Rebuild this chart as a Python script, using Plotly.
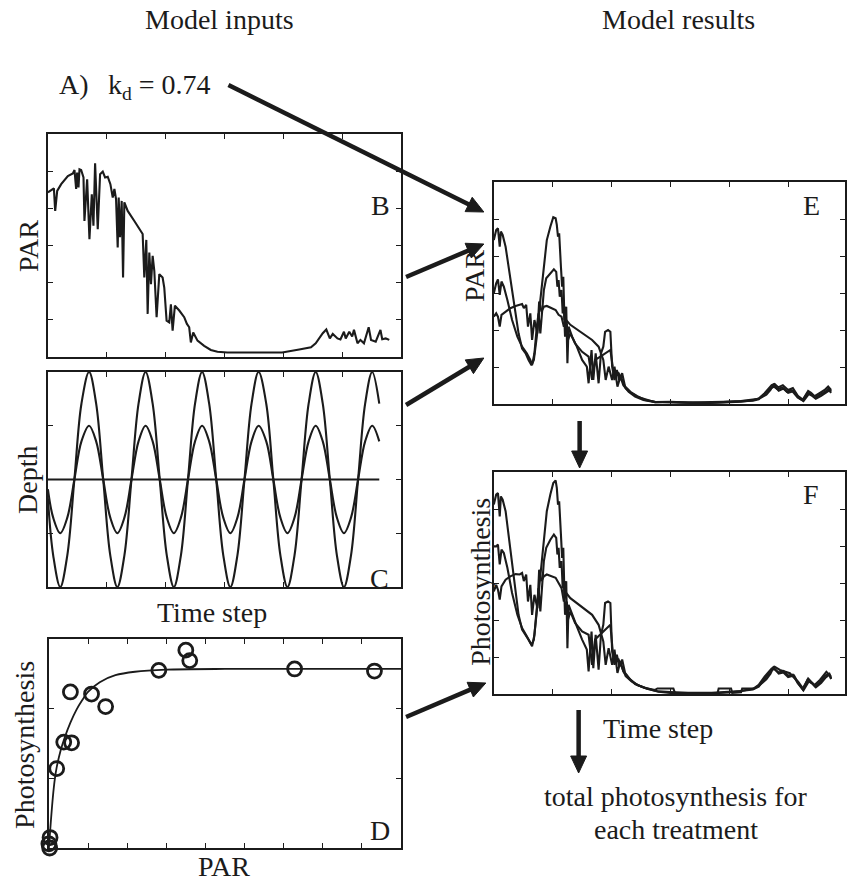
import math
import plotly.graph_objects as go

W, H = 847, 884
INK = "#1b1b1b"
FONT = "Liberation Serif, Times New Roman, serif"

# ---------------- panel B: surface PAR over the time series ----------------
par_surface = [
    (0.000, 4.43), (0.056, 4.49), (0.102, 4.54), (0.124, 3.93), (0.158, 4.47),
    (0.226, 4.65), (0.339, 4.87), (0.424, 4.94), (0.452, 5.03), (0.480, 4.52),
    (0.497, 4.96), (0.520, 4.56), (0.537, 5.05), (0.565, 5.03), (0.605, 4.83),
    (0.621, 3.66), (0.667, 4.78), (0.706, 3.17), (0.746, 4.38), (0.774, 3.53),
    (0.802, 5.21), (0.847, 3.44), (0.887, 4.92), (0.932, 4.99), (0.972, 4.83),
    (1.017, 4.85), (1.062, 4.65), (1.102, 4.29), (1.130, 4.52), (1.158, 4.25),
    (1.186, 2.95), (1.203, 4.29), (1.226, 3.22), (1.254, 4.20), (1.277, 2.14),
    (1.299, 4.16), (1.356, 3.93), (1.469, 3.66), (1.610, 3.31), (1.638, 2.14),
    (1.672, 3.15), (1.695, 1.16), (1.723, 2.81), (1.751, 1.96), (1.780, 2.72),
    (1.808, 2.32), (1.847, 1.07), (1.893, 2.23), (1.949, 2.14), (1.977, 1.87),
    (2.017, 0.98), (2.062, 0.93), (2.090, 1.42), (2.119, 0.71), (2.136, 0.98),
    (2.158, 1.38), (2.232, 1.25), (2.316, 1.07), (2.362, 0.89), (2.401, 0.80),
    (2.429, 0.39), (2.469, 0.66), (2.542, 0.44), (2.655, 0.30), (2.768, 0.19),
    (2.881, 0.14), (3.050, 0.12), (3.500, 0.12), (3.980, 0.12), (4.270, 0.20),
    (4.380, 0.23), (4.470, 0.26), (4.550, 0.37), (4.670, 0.64), (4.730, 0.74),
    (4.790, 0.50), (4.840, 0.62), (4.920, 0.50), (4.970, 0.47), (5.030, 0.68),
    (5.060, 0.50), (5.120, 0.68), (5.170, 0.55), (5.200, 0.73), (5.260, 0.37),
    (5.310, 0.46), (5.370, 0.37), (5.450, 0.80), (5.490, 0.46), (5.570, 0.41),
    (5.650, 0.73), (5.680, 0.48), (5.740, 0.50), (5.800, 0.46),
]

# ---------------- panel C: depth treatments ----------------
depth_t = [0.00, 0.09, 0.21, 0.33, 0.45, 0.57, 0.70, 0.82, 0.94, 1.06, 1.18,
           1.30, 1.42, 1.54, 1.66, 1.78, 1.90, 2.02, 2.14, 2.26, 2.38, 2.50,
           2.62, 2.74, 2.86, 2.98, 3.10, 3.22, 3.34, 3.46, 3.58, 3.71, 3.83,
           3.95, 4.07, 4.19, 4.31, 4.43, 4.55, 4.67, 4.79, 4.91, 5.03, 5.15,
           5.27, 5.39, 5.51, 5.63]
depth_large = [1.65, 0.59,
               0, 0.59, 2, 3.41, 4, 3.41, 2, 0.59,
               0, 0.59, 2, 3.41, 4, 3.41, 2, 0.59,
               0, 0.59, 2, 3.41, 4, 3.41, 2, 0.59,
               0, 0.59, 2, 3.41, 4, 3.41, 2, 0.59,
               0, 0.59, 2, 3.41, 4, 3.41, 2, 0.59,
               0, 0.59, 2, 3.41, 4, 3.41]
depth_medium = [1.82, 1.29,
                1, 1.29, 2, 2.71, 3, 2.71, 2, 1.29,
                1, 1.29, 2, 2.71, 3, 2.71, 2, 1.29,
                1, 1.29, 2, 2.71, 3, 2.71, 2, 1.29,
                1, 1.29, 2, 2.71, 3, 2.71, 2, 1.29,
                1, 1.29, 2, 2.71, 3, 2.71, 2, 1.29,
                1, 1.29, 2, 2.71, 3, 2.71]
depth_fixed_t = [0.00, 5.63]
depth_fixed = [2, 2]

# ---------------- panel D: photosynthesis-irradiance data and fit ----------------
pi_obs_par = [0.03, 0.00, 0.02, 0.20, 0.38, 0.58, 0.55, 1.09, 1.45, 2.81, 3.50, 3.60, 6.28, 8.32]
pi_obs_ps = [0.15, 0.06, 0.00, 1.14, 1.52, 1.51, 2.24, 2.21, 2.03, 2.55, 2.84, 2.69, 2.57, 2.54]
pi_fit_par = [0, 0.05, 0.10, 0.15, 0.20, 0.30, 0.40, 0.55, 0.70, 0.85, 1.00,
              1.30, 1.70, 2.20, 3.00, 4.50, 9.00]
pi_fit_ps = [0, 0.38, 0.72, 0.98, 1.16, 1.40, 1.58, 1.80, 1.98, 2.12, 2.24,
             2.38, 2.48, 2.53, 2.56, 2.57, 2.57]

# ---------------- panel E: PAR received under each depth treatment ----------------
par_shallow = [
    (0.00, 4.43), (0.04, 4.70), (0.07, 4.75), (0.10, 4.25), (0.12, 4.66),
    (0.15, 4.57), (0.20, 4.25), (0.25, 3.71), (0.31, 3.08), (0.37, 2.45),
    (0.42, 1.91), (0.48, 1.50), (0.54, 1.37), (0.59, 1.19), (0.64, 1.05),
    (0.68, 1.19), (0.73, 1.82), (0.79, 2.81), (0.85, 3.80), (0.90, 4.43),
    (0.96, 4.79), (1.01, 5.05), (1.05, 5.02), (1.07, 4.84), (1.09, 4.52),
    (1.11, 4.61), (1.14, 3.71), (1.16, 3.17), (1.18, 3.44), (1.20, 2.27),
    (1.23, 2.63), (1.25, 1.10), (1.27, 2.09), (1.33, 1.82), (1.41, 1.55),
    (1.50, 1.19), (1.58, 1.01), (1.61, 0.56), (1.66, 1.46), (1.69, 0.65),
    (1.73, 1.37), (1.78, 0.56), (1.82, 1.37), (1.86, 1.55), (1.89, 1.95),
    (1.94, 2.00), (1.98, 1.95), (2.01, 1.01), (2.05, 0.65), (2.09, 0.92),
    (2.13, 0.65), (2.18, 0.83), (2.23, 0.47), (2.32, 0.33), (2.43, 0.22),
    (2.57, 0.11), (2.74, 0.06), (3.00, 0.04), (3.20, 0.03), (3.50, 0.02),
    (3.90, 0.04), (4.20, 0.06), (4.40, 0.10), (4.50, 0.15), (4.60, 0.29),
    (4.72, 0.51), (4.77, 0.54), (4.83, 0.45), (4.91, 0.51), (5.00, 0.38),
    (5.08, 0.43), (5.17, 0.21), (5.25, 0.12), (5.34, 0.35), (5.39, 0.30),
    (5.45, 0.21), (5.54, 0.30), (5.62, 0.38), (5.68, 0.47), (5.73, 0.38),
]
par_middle = [
    (0.00, 2.99), (0.04, 3.26), (0.07, 3.37), (0.10, 2.95), (0.13, 3.31),
    (0.17, 3.17), (0.23, 2.81), (0.31, 2.27), (0.40, 1.82), (0.48, 1.55),
    (0.56, 1.37), (0.62, 1.19), (0.65, 1.05), (0.69, 1.37), (0.73, 2.09),
    (0.76, 2.45), (0.79, 1.91), (0.82, 2.63), (0.85, 3.08), (0.89, 3.40),
    (0.96, 3.53), (1.02, 3.64), (1.06, 3.57), (1.08, 3.17), (1.10, 3.35),
    (1.12, 2.90), (1.15, 3.08), (1.17, 2.45), (1.19, 2.63), (1.21, 1.82),
    (1.24, 2.18), (1.26, 1.73), (1.30, 1.91), (1.38, 1.64), (1.50, 1.41),
    (1.61, 1.28), (1.67, 0.65), (1.72, 1.19), (1.81, 1.28), (1.89, 1.37),
    (1.98, 1.46), (2.02, 1.01), (2.06, 0.74), (2.12, 0.83), (2.18, 0.65),
    (2.24, 0.42), (2.34, 0.29), (2.46, 0.18), (2.60, 0.11), (2.74, 0.05),
    (3.00, 0.05), (3.30, 0.03), (3.60, 0.03), (3.90, 0.05), (4.20, 0.07),
    (4.40, 0.09), (4.50, 0.13), (4.62, 0.30), (4.70, 0.42), (4.76, 0.47),
    (4.82, 0.40), (4.90, 0.45), (4.98, 0.33), (5.06, 0.37), (5.16, 0.18),
    (5.25, 0.10), (5.33, 0.30), (5.40, 0.25), (5.46, 0.17), (5.55, 0.26),
    (5.63, 0.33), (5.69, 0.42), (5.73, 0.34),
]
par_deep = [
    (0.00, 2.36), (0.04, 2.45), (0.07, 2.36), (0.10, 2.09), (0.13, 2.41),
    (0.20, 2.50), (0.28, 2.59), (0.37, 2.65), (0.44, 2.68), (0.48, 2.70),
    (0.51, 2.59), (0.55, 2.68), (0.58, 2.09), (0.62, 2.45), (0.65, 1.73),
    (0.69, 2.27), (0.74, 1.91), (0.77, 2.77), (0.81, 2.50), (0.85, 2.63),
    (0.90, 2.65), (0.99, 2.59), (1.05, 2.54), (1.10, 2.41), (1.15, 2.36),
    (1.19, 2.09), (1.23, 2.27), (1.30, 2.14), (1.41, 2.02), (1.55, 1.86),
    (1.67, 1.73), (1.78, 1.55), (1.86, 1.19), (1.90, 0.65), (1.95, 1.01),
    (2.01, 0.65), (2.05, 1.01), (2.10, 0.47), (2.15, 0.74), (2.20, 0.51),
    (2.29, 0.33), (2.40, 0.20), (2.54, 0.11), (2.74, 0.05), (3.00, 0.06),
    (3.30, 0.04), (3.60, 0.04), (3.90, 0.06), (4.20, 0.08), (4.40, 0.11),
    (4.50, 0.14), (4.63, 0.25), (4.70, 0.38), (4.75, 0.52), (4.84, 0.36),
    (4.92, 0.42), (5.00, 0.30), (5.10, 0.35), (5.18, 0.16), (5.26, 0.08),
    (5.35, 0.27), (5.41, 0.22), (5.47, 0.14), (5.56, 0.22), (5.64, 0.30),
    (5.70, 0.37), (5.73, 0.30),
]

# ---------------- panel F: photosynthesis under each depth treatment ----------------
ps_shallow = [
    (0.00, 5.12), (0.04, 5.39), (0.07, 5.43), (0.10, 4.80), (0.12, 5.34),
    (0.15, 5.25), (0.20, 4.94), (0.25, 4.31), (0.31, 3.50), (0.37, 2.68),
    (0.42, 2.14), (0.48, 1.74), (0.54, 1.60), (0.59, 1.47), (0.64, 1.33),
    (0.68, 1.47), (0.73, 2.23), (0.79, 3.23), (0.85, 4.22), (0.90, 4.94),
    (0.96, 5.39), (1.01, 5.70), (1.05, 5.77), (1.07, 5.57), (1.09, 5.12),
    (1.11, 5.21), (1.14, 4.31), (1.16, 3.68), (1.18, 3.95), (1.20, 2.68),
    (1.23, 3.05), (1.25, 1.24), (1.27, 2.41), (1.33, 2.14), (1.41, 1.83),
    (1.50, 1.47), (1.58, 1.20), (1.61, 0.61), (1.66, 1.69), (1.69, 0.70),
    (1.73, 1.60), (1.78, 0.66), (1.82, 1.60), (1.86, 1.87), (1.89, 2.46),
    (1.94, 2.50), (1.98, 2.46), (2.01, 1.15), (2.05, 0.79), (2.09, 1.06),
    (2.13, 0.75), (2.18, 0.93), (2.23, 0.57), (2.32, 0.39), (2.43, 0.25),
    (2.57, 0.16), (2.74, 0.11), (2.78, 0.15), (3.05, 0.15), (3.08, 0.02),
    (3.50, 0.02), (3.80, 0.02), (3.82, 0.15), (4.03, 0.15), (4.05, 0.03),
    (4.20, 0.05), (4.22, 0.15), (4.42, 0.15), (4.50, 0.25), (4.60, 0.47),
    (4.72, 0.69), (4.77, 0.74), (4.86, 0.65), (4.94, 0.60), (5.03, 0.56),
    (5.08, 0.47), (5.17, 0.33), (5.25, 0.15), (5.34, 0.42), (5.39, 0.33),
    (5.45, 0.24), (5.54, 0.38), (5.65, 0.60), (5.73, 0.47),
]
ps_middle = [
    (0.00, 3.99), (0.04, 3.99), (0.07, 4.04), (0.10, 3.50), (0.13, 3.90),
    (0.17, 3.81), (0.23, 3.41), (0.31, 2.73), (0.40, 2.14), (0.48, 1.78),
    (0.56, 1.56), (0.62, 1.38), (0.65, 1.29), (0.69, 1.60), (0.73, 2.41),
    (0.76, 2.86), (0.79, 2.23), (0.82, 3.05), (0.85, 3.59), (0.89, 3.95),
    (0.96, 4.17), (1.02, 4.31), (1.06, 4.22), (1.08, 3.77), (1.10, 3.95),
    (1.12, 3.41), (1.15, 3.59), (1.17, 2.86), (1.19, 3.05), (1.21, 2.14),
    (1.24, 2.50), (1.26, 2.01), (1.30, 2.23), (1.38, 1.92), (1.50, 1.69),
    (1.61, 1.60), (1.67, 0.79), (1.72, 1.47), (1.81, 1.60), (1.89, 1.74),
    (1.98, 1.87), (2.02, 1.15), (2.06, 0.84), (2.12, 0.93), (2.18, 0.70),
    (2.24, 0.48), (2.34, 0.34), (2.46, 0.23), (2.60, 0.14), (2.74, 0.09),
    (2.80, 0.06), (3.00, 0.03), (3.30, 0.02), (3.70, 0.02), (4.00, 0.04),
    (4.20, 0.07), (4.40, 0.12), (4.50, 0.20), (4.62, 0.45), (4.70, 0.62),
    (4.76, 0.68), (4.84, 0.58), (4.92, 0.62), (5.00, 0.50), (5.08, 0.52),
    (5.16, 0.30), (5.25, 0.12), (5.33, 0.38), (5.40, 0.30), (5.46, 0.20),
    (5.55, 0.33), (5.63, 0.50), (5.70, 0.55), (5.73, 0.42),
]
ps_deep = [
    (0.00, 2.77), (0.04, 2.95), (0.07, 2.82), (0.10, 2.55), (0.13, 2.91),
    (0.20, 3.09), (0.28, 3.18), (0.37, 3.24), (0.44, 3.23), (0.48, 3.27),
    (0.51, 3.05), (0.55, 3.23), (0.58, 2.50), (0.62, 2.95), (0.65, 2.14),
    (0.69, 2.68), (0.74, 2.32), (0.77, 3.36), (0.81, 3.05), (0.85, 3.18),
    (0.90, 3.23), (0.99, 3.18), (1.05, 3.14), (1.10, 3.00), (1.15, 2.86),
    (1.19, 2.50), (1.23, 2.73), (1.30, 2.59), (1.41, 2.46), (1.55, 2.28),
    (1.67, 2.14), (1.78, 1.87), (1.86, 1.42), (1.90, 0.79), (1.95, 1.24),
    (2.01, 0.79), (2.05, 1.20), (2.10, 0.57), (2.15, 0.88), (2.20, 0.61),
    (2.29, 0.43), (2.40, 0.27), (2.54, 0.18), (2.74, 0.09), (2.80, 0.07),
    (3.00, 0.05), (3.30, 0.03), (3.70, 0.03), (4.00, 0.05), (4.20, 0.08),
    (4.40, 0.14), (4.50, 0.22), (4.63, 0.40), (4.70, 0.55), (4.75, 0.72),
    (4.84, 0.55), (4.92, 0.58), (5.00, 0.46), (5.10, 0.50), (5.18, 0.27),
    (5.26, 0.10), (5.35, 0.34), (5.41, 0.28), (5.47, 0.18), (5.56, 0.30),
    (5.64, 0.45), (5.70, 0.52), (5.73, 0.40),
]


def px(x):
    return x / W


def py(y):
    return 1 - y / H


fig = go.Figure()


def line_trace(pts, axis, width=2.1):
    fig.add_trace(go.Scatter(
        x=[p[0] for p in pts], y=[p[1] for p in pts], mode="lines",
        line=dict(color=INK, width=width), xaxis=f"x{axis}", yaxis=f"y{axis}",
        hoverinfo="skip", showlegend=False))


# B
line_trace(par_surface, 1)
# C
for ys in (depth_large, depth_medium):
    fig.add_trace(go.Scatter(x=depth_t, y=ys, mode="lines",
                             line=dict(color=INK, width=2.1, shape="spline"),
                             xaxis="x2", yaxis="y2", showlegend=False, hoverinfo="skip"))
fig.add_trace(go.Scatter(x=depth_fixed_t, y=depth_fixed, mode="lines",
                         line=dict(color=INK, width=2.1), xaxis="x2", yaxis="y2",
                         showlegend=False, hoverinfo="skip"))
# D
fig.add_trace(go.Scatter(x=pi_fit_par, y=pi_fit_ps, mode="lines",
                         line=dict(color=INK, width=1.8, shape="spline", smoothing=0.8),
                         xaxis="x3", yaxis="y3", showlegend=False, hoverinfo="skip"))
fig.add_trace(go.Scatter(x=pi_obs_par, y=pi_obs_ps, mode="markers", cliponaxis=False,
                         marker=dict(symbol="circle-open", size=14, color=INK,
                                     line=dict(width=2.8, color=INK)),
                         xaxis="x3", yaxis="y3", showlegend=False, hoverinfo="skip"))
# E
for s in (par_deep, par_middle, par_shallow):
    line_trace(s, 4)
# F
for s in (ps_deep, ps_middle, ps_shallow):
    line_trace(s, 5)


def frame(n, box, xr, yr, xt, yt):
    x0, y0, x1, y1 = box
    common = dict(ticks="inside", ticklen=5, tickwidth=1.2, tickcolor=INK,
                  showline=True, linewidth=1.7, linecolor=INK, mirror="ticks",
                  showticklabels=False, showgrid=False, zeroline=False, fixedrange=True)
    fig.layout[f"xaxis{n}"] = dict(domain=[px(x0), min(px(x1), 1.0)], range=xr,
                                   tickvals=xt, anchor=f"y{n}", **common)
    fig.layout[f"yaxis{n}"] = dict(domain=[py(y1), py(y0)], range=yr,
                                   tickvals=yt, anchor=f"x{n}", **common)


frame(1, (48, 134, 402, 357), [0, 6], [0, 6], [1, 2, 3, 4, 5], [1, 2, 3, 4, 5])
frame(2, (48, 372, 402, 587), [0, 6], [0, 4], [1, 2, 3, 4, 5], [1, 2, 3])
frame(3, (49, 639, 402, 848), [0, 9], [0, 3], list(range(1, 9)), [1, 2])
frame(4, (495, 182, 847, 404), [0, 6 * 352 / 354], [0, 6], [1, 2, 3, 4, 5], [1, 2, 3, 4, 5])
frame(5, (495, 472, 847, 694), [0, 6 * 352 / 354], [0, 6], [1, 2, 3, 4, 5], [1, 2, 3, 4, 5])

annotations = []


def label(text, x, y, size=28, angle=0, xanchor="center"):
    annotations.append(dict(text=text, x=px(x), y=py(y), xref="paper", yref="paper",
                            showarrow=False, textangle=angle, xanchor=xanchor,
                            yanchor="middle", font=dict(family=FONT, size=size, color=INK)))


label("Model inputs", 220, 19)
label("Model results", 680, 19)
label("A)", 57, 84, xanchor="left")
label("k<sub>d</sub> = 0.74", 106, 87, xanchor="left")
label("B", 381, 205)
label("C", 380, 578)
label("D", 381, 830)
label("E", 813, 205)
label("F", 813, 494)
label("PAR", 28, 246, angle=-90)
label("Depth", 28, 480, angle=-90)
label("Photosynthesis", 24, 745, angle=-90)
label("Time step", 213, 612)
label("PAR", 225, 866)
label("PAR", 475, 276, angle=-90)
label("Photosynthesis", 481, 582, angle=-90)
label("Time step", 660, 728)
label("total photosynthesis for", 678, 796)
label("each treatment", 678, 829)

# flow arrows between panels
shapes = []


def arrow(x0, y0, x1, y1, head=17, half=8, width=4.5):
    dx, dy = x1 - x0, y1 - y0
    n = math.hypot(dx, dy)
    ux, uy = dx / n, dy / n
    bx, by = x1 - ux * head, y1 - uy * head
    shapes.append(dict(type="line", xref="paper", yref="paper",
                       x0=px(x0), y0=py(y0), x1=px(bx + ux * 2), y1=py(by + uy * 2),
                       line=dict(color=INK, width=width)))
    qx, qy = -uy, ux
    path = "M {} {} L {} {} L {} {} Z".format(
        px(x1), py(y1), px(bx + qx * half), py(by + qy * half),
        px(bx - qx * half), py(by - qy * half))
    shapes.append(dict(type="path", xref="paper", yref="paper", path=path,
                       fillcolor=INK, line=dict(color=INK, width=1)))


arrow(229, 85, 485, 212)
arrow(407, 277, 485, 244)
arrow(407, 405, 485, 358)
arrow(407, 717, 487, 683)
arrow(581, 421, 581, 468)
arrow(580, 710, 580, 773)

fig.update_layout(width=W, height=H, autosize=False,
                  margin=dict(l=0, r=0, t=0, b=0, pad=0),
                  paper_bgcolor="white", plot_bgcolor="white",
                  annotations=annotations, shapes=shapes, showlegend=False)

fig.write_html("out.html", config={"displayModeBar": False})
